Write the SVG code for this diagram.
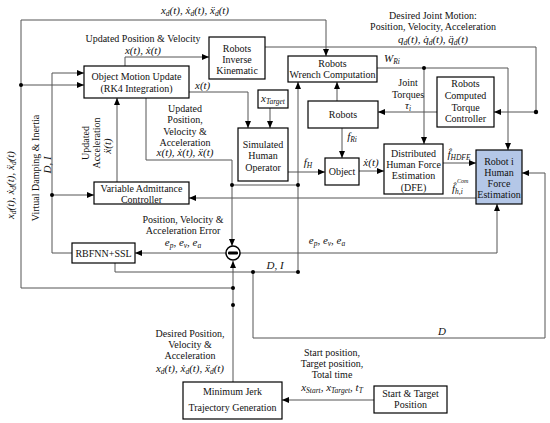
<svg xmlns="http://www.w3.org/2000/svg" width="550" height="423" viewBox="0 0 550 423">
<style>
  text { font-family: "Liberation Serif", "Times New Roman", serif; font-size: 10px; fill: #111; }
  .c { text-anchor: middle; }
  .m { font-style: italic; font-size: 11px; }
  .s { font-size: 7.5px; }
  .xs { font-size: 6px; font-style: italic; }
  .box { fill: #fff; stroke: #000; stroke-width: 1.2; }
  .blue { fill: #b4c7e7; }
  .ln { fill: none; stroke: #555; stroke-width: 1; }
  .ar { marker-end: url(#ah); }
  .dot { fill: #000; }
</style>
<defs>
  <marker id="ah" markerWidth="7" markerHeight="6" refX="7" refY="3" orient="auto" markerUnits="userSpaceOnUse">
    <path d="M0,0 L7,3 L0,6 z" fill="#000"/>
  </marker>
</defs>
<rect width="550" height="423" fill="#fff"/>

<g id="connectors">
  <polyline class="ln ar" points="21,288 21,20 326,20 326,56"/>
  <line class="ln ar" x1="21" y1="85" x2="84" y2="85"/>
  <line class="ln" x1="21" y1="288" x2="233" y2="288"/>
  <line class="ln ar" x1="233" y1="382" x2="233" y2="261"/>
  <polyline class="ln ar" points="125,66 125,57 209,57"/>
  <polyline class="ln ar" points="265,47 536,47 536,112 494,112"/>
  <line class="ln ar" x1="437" y1="112" x2="378" y2="112"/>
  <line class="ln ar" x1="337" y1="101" x2="337" y2="82"/>
  <line class="ln ar" x1="342" y1="128" x2="342" y2="158"/>
  <polyline class="ln ar" points="377,68 508,68 508,150"/>
  <line class="ln ar" x1="424" y1="68" x2="424" y2="144"/>
  <polyline class="ln ar" points="189,92 248,92 248,128"/>
  <line class="ln ar" x1="270" y1="108" x2="270" y2="128"/>
  <line class="ln ar" x1="288" y1="172" x2="325" y2="172"/>
  <line class="ln ar" x1="359" y1="171" x2="384" y2="171"/>
  <line class="ln ar" x1="443" y1="163" x2="476" y2="163"/>
  <line class="ln ar" x1="476" y1="198" x2="189" y2="198"/>
  <polyline class="ln ar" points="146,98 146,160 232,160 232,246"/>
  <line class="ln" x1="232" y1="185" x2="298" y2="185"/>
  <line class="ln ar" x1="298" y1="272" x2="298" y2="82"/>
  <line class="ln ar" x1="117" y1="182" x2="117" y2="98"/>
  <line class="ln ar" x1="226" y1="253" x2="135" y2="253"/>
  <polyline class="ln ar" points="72,253 52,253 52,73 84,73"/>
  <line class="ln ar" x1="52" y1="195" x2="94" y2="195"/>
  <polyline class="ln" points="115,263 115,272 298,272"/>
  <polyline class="ln ar" points="253,272 253,338 545,338 545,173 522,173"/>
  <polyline class="ln ar" points="240,253 497,253 497,204"/>
  <line class="ln ar" x1="374" y1="400" x2="282" y2="400"/>
  <circle class="dot" cx="21" cy="85" r="2"/>
  <circle class="dot" cx="233" cy="288" r="2"/>
  <circle class="dot" cx="233" cy="305" r="2"/>
  <circle class="dot" cx="536" cy="112" r="2.2"/>
  <circle class="dot" cx="424" cy="68" r="2"/>
  <circle class="dot" cx="232" cy="185" r="2"/>
  <circle class="dot" cx="298" cy="185" r="2"/>
  <circle class="dot" cx="298" cy="272" r="2"/>
  <circle class="dot" cx="253" cy="272" r="2"/>
  <circle class="dot" cx="52" cy="195" r="2"/>
</g>

<g id="sum">
  <circle cx="233" cy="253" r="7" fill="#fff" stroke="#000" stroke-width="1.5"/>
  <rect x="228" y="251.5" width="10" height="3" rx="1.2" fill="#000"/>
</g>

<g id="object-motion-update">
  <rect class="box" x="84" y="66" width="105" height="32"/>
  <text class="c" x="136.5" y="79.5">Object Motion Update</text>
  <text class="c" x="136.5" y="92">(RK4 Integration)</text>
</g>
<g id="robots-inverse-kinematic">
  <rect class="box" x="209" y="37" width="56" height="42"/>
  <text class="c" x="237" y="51.5">Robots</text>
  <text class="c" x="237" y="62.5">Inverse</text>
  <text class="c" x="237" y="73.5">Kinematic</text>
</g>
<g id="robots-wrench-computation">
  <rect class="box" x="288" y="56" width="89" height="26"/>
  <text class="c" x="332.5" y="66.5">Robots</text>
  <text class="c" x="332.5" y="77.5">Wrench Computation</text>
</g>
<g id="x-target">
  <rect class="box" x="258" y="90" width="30" height="18"/>
  <text class="m c" x="273" y="102">x<tspan class="s" dy="2">Target</tspan></text>
</g>
<g id="robots">
  <rect class="box" x="308" y="101" width="70" height="27"/>
  <text class="c" x="343" y="118">Robots</text>
</g>
<g id="robots-computed-torque-controller">
  <rect class="box" x="437" y="77" width="57" height="50"/>
  <text class="c" x="465.5" y="86.5">Robots</text>
  <text class="c" x="465.5" y="98.5">Computed</text>
  <text class="c" x="465.5" y="110.5">Torque</text>
  <text class="c" x="465.5" y="121.5">Controller</text>
</g>
<g id="simulated-human-operator">
  <rect class="box" x="238" y="128" width="50" height="53"/>
  <text class="c" x="263" y="147.5">Simulated</text>
  <text class="c" x="263" y="159">Human</text>
  <text class="c" x="263" y="170.5">Operator</text>
</g>
<g id="object">
  <rect class="box" x="325" y="158" width="34" height="27"/>
  <text class="c" x="342" y="175">Object</text>
</g>
<g id="dfe">
  <rect class="box" x="384" y="144" width="59" height="50"/>
  <text class="c" x="413.5" y="156.5">Distributed</text>
  <text class="c" x="413.5" y="167.5">Human Force</text>
  <text class="c" x="413.5" y="179">Estimation</text>
  <text class="c" x="413.5" y="190.5">(DFE)</text>
</g>
<g id="robot-i-hfe">
  <rect class="box blue" x="476" y="150" width="46" height="54"/>
  <text class="c" x="499" y="164.5">Robot i</text>
  <text class="c" x="499" y="175.5">Human</text>
  <text class="c" x="499" y="186.5">Force</text>
  <text class="c" x="499" y="198">Estimation</text>
</g>
<g id="variable-admittance-controller">
  <rect class="box" x="94" y="182" width="95" height="22"/>
  <text class="c" x="141.5" y="192">Variable Admittance</text>
  <text class="c" x="141.5" y="203">Controller</text>
</g>
<g id="rbfnn-ssl">
  <rect class="box" x="72" y="243" width="63" height="20"/>
  <text class="c" x="103.5" y="256.5">RBFNN+SSL</text>
</g>
<g id="minimum-jerk">
  <rect class="box" x="183" y="382" width="99" height="37"/>
  <text class="c" x="232.5" y="394.5">Minimum Jerk</text>
  <text class="c" x="232.5" y="410.5">Trajectory Generation</text>
</g>
<g id="start-target-position">
  <rect class="box" x="374" y="386" width="73" height="27"/>
  <text class="c" x="410.5" y="396.5">Start &amp; Target</text>
  <text class="c" x="410.5" y="408">Position</text>
</g>

<g id="labels">
  <text class="m c" x="195" y="14">x<tspan class="s" dy="2">d</tspan><tspan dy="-2">(t), ẋ</tspan><tspan class="s" dy="2">d</tspan><tspan dy="-2">(t), ẍ</tspan><tspan class="s" dy="2">d</tspan><tspan dy="-2">(t)</tspan></text>
  <text class="c" x="143" y="41.5">Updated Position &amp; Velocity</text>
  <text class="m c" x="143" y="54">x(t), ẋ(t)</text>
  <text class="c" x="433" y="18.5">Desired Joint Motion:</text>
  <text class="c" x="433" y="30">Position, Velocity, Acceleration</text>
  <text class="m c" x="433" y="43">q<tspan class="s" dy="2">d</tspan><tspan dy="-2">(t), q̇</tspan><tspan class="s" dy="2">d</tspan><tspan dy="-2">(t), q̈</tspan><tspan class="s" dy="2">d</tspan><tspan dy="-2">(t)</tspan></text>
  <text class="m c" x="392" y="62">W<tspan class="s" dy="2">Ri</tspan></text>
  <text class="c" x="408" y="85.5">Joint</text>
  <text class="c" x="408" y="97.5">Torques</text>
  <text class="m c" x="408" y="109">τ<tspan class="s" dy="2">i</tspan></text>
  <text class="m" x="195" y="89">x(t)</text>
  <text class="c" x="185" y="111.5">Updated</text>
  <text class="c" x="185" y="123">Position,</text>
  <text class="c" x="185" y="134.5">Velocity &amp;</text>
  <text class="c" x="185" y="145.5">Acceleration</text>
  <text class="m c" x="185" y="156">x(t), ẋ(t), ẍ(t)</text>
  <text class="m c" x="352" y="140">f<tspan class="s" dy="2">Ri</tspan></text>
  <text class="m c" x="308" y="166">f<tspan class="s" dy="2">H</tspan></text>
  <text class="m c" x="371" y="166">ẋ(t)</text>
  <text class="m c" x="459" y="158">f̂<tspan class="s" dy="2">HDFE</tspan></text>
  <text class="m" x="452" y="192">f̂<tspan class="s" dy="2">h,i</tspan></text>
  <text class="xs" x="457" y="183">Com</text>
  <text class="c" x="183" y="223">Position, Velocity &amp;</text>
  <text class="c" x="183" y="234">Acceleration Error</text>
  <text class="m c" x="183" y="246">e<tspan class="s" dy="2">p</tspan><tspan dy="-2">, e</tspan><tspan class="s" dy="2">v</tspan><tspan dy="-2">, e</tspan><tspan class="s" dy="2">a</tspan></text>
  <text class="m c" x="327" y="244">e<tspan class="s" dy="2">p</tspan><tspan dy="-2">, e</tspan><tspan class="s" dy="2">v</tspan><tspan dy="-2">, e</tspan><tspan class="s" dy="2">a</tspan></text>
  <text class="m c" x="275" y="269">D, I</text>
  <text class="m c" x="442" y="335">D</text>
  <text class="m c" transform="translate(14,185) rotate(-90)">x<tspan class="s" dy="2">d</tspan><tspan dy="-2">(t), ẋ</tspan><tspan class="s" dy="2">d</tspan><tspan dy="-2">(t), ẍ</tspan><tspan class="s" dy="2">d</tspan><tspan dy="-2">(t)</tspan></text>
  <text class="c" transform="translate(38.5,168) rotate(-90)">Virtual Damping &amp; Inertia</text>
  <text class="m c" transform="translate(51,165) rotate(-90)">D, I</text>
  <text class="c" transform="translate(88.5,143) rotate(-90)">Updated</text>
  <text class="c" transform="translate(99.5,143) rotate(-90)">Acceleration</text>
  <text class="m c" transform="translate(111,146) rotate(-90)">ẍ(t)</text>
  <text class="c" x="190" y="336.5">Desired Position,</text>
  <text class="c" x="190" y="347.5">Velocity &amp;</text>
  <text class="c" x="190" y="358.5">Acceleration</text>
  <text class="m c" x="190" y="372">x<tspan class="s" dy="2">d</tspan><tspan dy="-2">(t), ẋ</tspan><tspan class="s" dy="2">d</tspan><tspan dy="-2">(t), ẍ</tspan><tspan class="s" dy="2">d</tspan><tspan dy="-2">(t)</tspan></text>
  <text class="c" x="332" y="355.5">Start position,</text>
  <text class="c" x="332" y="366.5">Target position,</text>
  <text class="c" x="332" y="377.5">Total time</text>
  <text class="m c" x="332" y="391">x<tspan class="s" dy="2">Start</tspan><tspan dy="-2">, x</tspan><tspan class="s" dy="2">Target</tspan><tspan dy="-2">, t</tspan><tspan class="s" dy="2">T</tspan></text>
</g>
</svg>
